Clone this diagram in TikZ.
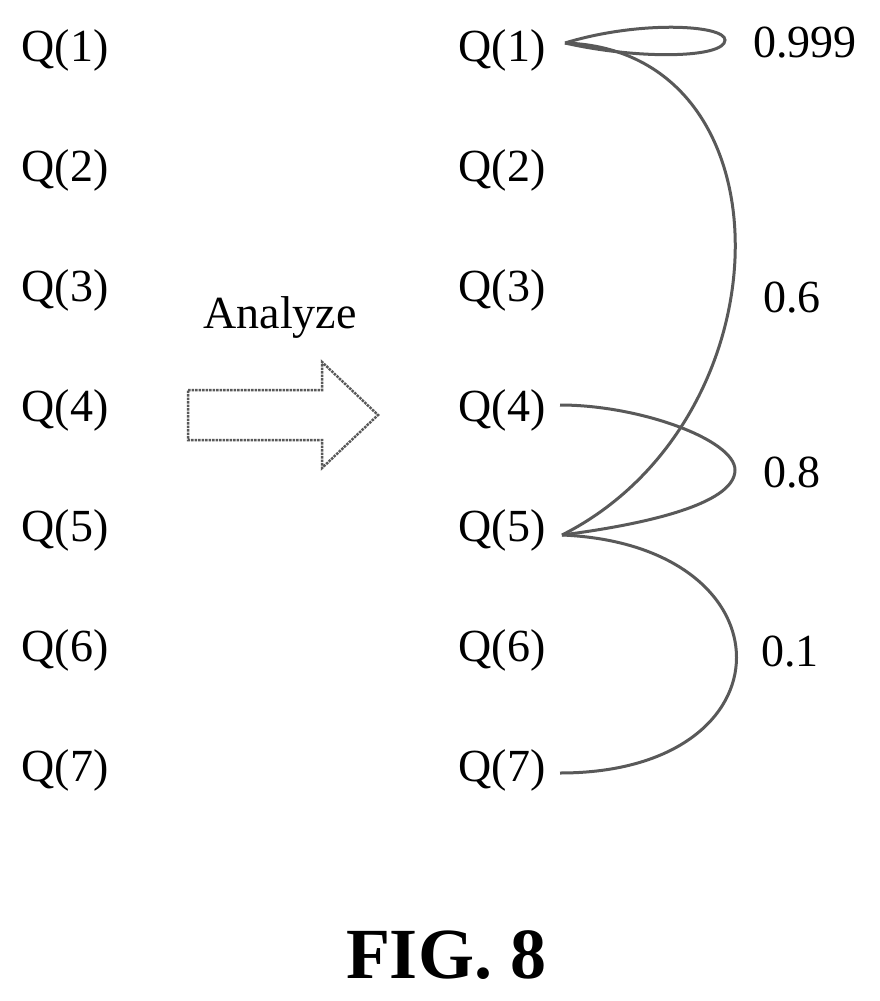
\documentclass[tikz,border=0pt]{standalone}
\usepackage{fontspec}
\setmainfont{Liberation Serif}
\begin{document}
\begin{tikzpicture}[x=1pt,y=-1pt,
  lbl/.style={font=\fontsize{46}{50}\selectfont, inner sep=0pt},
  edge/.style={draw=black!65, line width=3pt}]
\useasboundingbox (0,0) rectangle (879,1001);
\foreach \i/\y in {1/50,2/170,3/290,4/410,5/530,6/650,7/770}{
  \node[lbl] (L\i) at (65,\y) {Q(\i)};
  \node[lbl] (R\i) at (502,\y) {Q(\i)};
}
\node[lbl] (an) at (280,318) {Analyze};
\draw[black!65, line width=2.5pt, densely dotted] (188,390) -- (322,390) -- (322,362) -- (378,415) -- (322,468) -- (322,440) -- (188,440) -- cycle;
\coordinate (c1) at (565,43);
\coordinate (c4) at (560,405);
\coordinate (c5) at (562,535);
\coordinate (c7) at (560,773);
\draw[edge] (c1) .. controls (640,20) and (725,25) .. (725,40) .. controls (725,58) and (640,60) .. (c1);
\draw[edge] (c1) .. controls (795,50) and (790,420) .. (c5);
\draw[edge] (c4) .. controls (640,405) and (735,440) .. (735,470) .. controls (735,505) and (640,525) .. (c5);
\draw[edge] (c5) .. controls (795,545) and (795,773) .. (c7);
\node[lbl] (p1) at (805,43) {0.999};
\node[lbl] (p2) at (792,298) {0.6};
\node[lbl] (p3) at (792,473) {0.8};
\node[lbl] (p4) at (790,652) {0.1};
\node[font=\bfseries\fontsize{72}{76}\selectfont, inner sep=0pt] (fig) at (446,955) {FIG. 8};
\end{tikzpicture}
\end{document}
